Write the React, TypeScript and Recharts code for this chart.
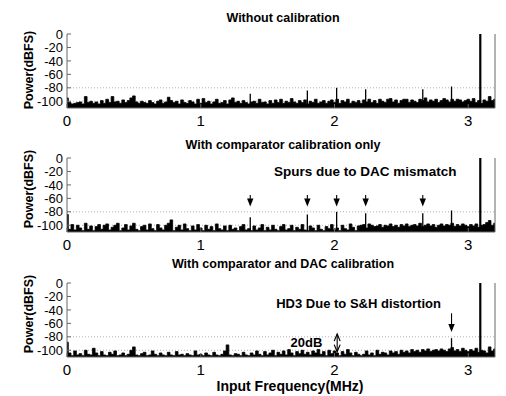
import React from 'react';
import { ComposedChart, Area, XAxis, YAxis, ReferenceLine, ReferenceDot, CartesianGrid } from 'recharts';

const FREQ_STEP = 0.02;
const X_TICKS = [0, 1, 2, 3];
const Y_TICKS = [0, -20, -40, -60, -80, -100];
const TITLES = ['Without calibration', 'With comparator calibration only', 'With comparator and DAC calibration'];
const Y_LABEL = 'Power(dBFS)';
const X_LABEL = 'Input Frequency(MHz)';

const NOISE_1 = [
  -95, -102, -104, -103, -102, -101, -104, -93, -102, -100,
  -103, -101, -104, -99, -103, -97, -102, -93, -101, -100,
  -103, -98, -102, -99, -95, -92, -101, -103, -100, -102,
  -103, -99, -102, -104, -100, -98, -103, -101, -94, -99,
  -102, -100, -104, -98, -102, -103, -99, -101, -104, -97,
  -103, -96, -102, -100, -104, -101, -97, -103, -102, -99,
  -104, -98, -95, -102, -100, -103, -99, -102, -104, -101,
  -100, -103, -97, -102, -101, -104, -99, -103, -98, -102,
  -97, -103, -100, -102, -96, -101, -103, -99, -102, -98,
  -104, -100, -102, -97, -103, -101, -99, -103, -100, -98,
  -102, -97, -103, -99, -101, -97, -103, -100, -102, -99,
  -103, -98, -101, -97, -102, -99, -103, -97, -100, -102,
  -97, -96, -101, -98, -103, -99, -97, -97, -102, -98,
  -100, -102, -97, -99, -95, -101, -98, -100, -97, -102,
  -99, -96, -98, -101, -97, -100, -97, -98, -101, -99,
  -97, -100, -96, -102, -99, -103, -98, -100, -93, -99,
  -97,
];
const NOISE_2 = [
  -84, -106, -99, -107, -100, -104, -108, -97, -106, -101,
  -108, -102, -99, -106, -100, -98, -107, -103, -100, -97,
  -108, -104, -99, -107, -101, -97, -106, -108, -102, -100,
  -107, -98, -105, -108, -99, -104, -107, -100, -97, -92,
  -108, -103, -100, -107, -98, -105, -108, -101, -107, -99,
  -104, -108, -100, -106, -102, -108, -98, -105, -107, -101,
  -108, -100, -106, -104, -108, -102, -99, -107, -105, -108,
  -101, -107, -104, -99, -108, -103, -107, -100, -106, -108,
  -102, -99, -107, -105, -100, -108, -103, -106, -99, -107,
  -108, -101, -104, -108, -100, -106, -108, -102, -105, -99,
  -107, -104, -108, -100, -105, -107, -98, -103, -108, -101,
  -100, -99, -104, -98, -100, -102, -101, -99, -103, -100,
  -101, -98, -102, -100, -103, -99, -101, -98, -102, -100,
  -99, -101, -97, -102, -100, -98, -101, -99, -103, -100,
  -98, -101, -99, -100, -97, -102, -99, -101, -98, -100,
  -102, -99, -101, -98, -103, -100, -99, -96, -93, -100,
  -97,
];
const NOISE_3 = [
  -88, -104, -108, -101, -107, -105, -108, -100, -106, -107,
  -97, -104, -108, -102, -107, -108, -103, -106, -101, -108,
  -107, -104, -108, -106, -100, -95, -107, -108, -105, -103,
  -108, -107, -101, -106, -108, -104, -107, -108, -103, -107,
  -108, -102, -107, -106, -108, -105, -107, -108, -101, -107,
  -106, -108, -104, -107, -108, -103, -107, -108, -106, -101,
  -92, -107, -108, -105, -106, -108, -103, -107, -108, -104,
  -107, -101, -106, -108, -102, -107, -104, -100, -108, -103,
  -106, -101, -107, -99, -104, -108, -102, -105, -100, -106,
  -103, -107, -101, -104, -99, -106, -102, -108, -100, -105,
  -101, -104, -108, -102, -106, -99, -104, -108, -103, -106,
  -108, -106, -101, -107, -104, -108, -100, -106, -103, -104,
  -107, -101, -104, -102, -106, -100, -103, -101, -104, -99,
  -102, -100, -103, -99, -101, -98, -102, -100, -99, -101,
  -98, -100, -102, -98, -96, -101, -99, -102, -97, -100,
  -102, -99, -101, -97, -103, -100, -101, -104, -95, -101,
  -98,
];

const SPUR_FREQS_1 = [1.37, 1.797, 2.016, 2.233, 2.66, 2.875, 3.09];
const SPUR_DB_1 = [-89, -84, -80, -82, -82, -78, 0];
const SPUR_FREQS_2 = [1.37, 1.797, 2.016, 2.233, 2.66, 2.875, 3.09];
const SPUR_DB_2 = [-88, -84, -80, -82, -82, -78, 0];
const SPUR_FREQS_3 = [2.875, 3.09];
const SPUR_DB_3 = [-82, 0];

const ARROW_FREQS_2 = [1.37, 1.797, 2.016, 2.233, 2.66];
const ARROW_FREQS_3 = [2.875];

const SANS = '"Liberation Sans", Arial, Helvetica, sans-serif';
const NARROW = '"Liberation Sans Narrow", "Arial Narrow", "Liberation Sans", Arial, sans-serif';

type Note = { f: number; db: number; text: string; fs: number };
type Arrow = { f: number; from: number; to: number };

const PLOT_TOPS = [34, 158, 283];
const PLOT_H = 74;

const ArrowHead = (p: any) => (
  <path d={`M${p.cx - 3.2},${p.cy - 8} L${p.cx + 3.2},${p.cy - 8} L${p.cx},${p.cy} Z`} fill="#000" />
);
const OpenUp = (p: any) => (
  <path d={`M${p.cx - 3},${p.cy + 7} L${p.cx},${p.cy} L${p.cx + 3},${p.cy + 7}`} fill="none" stroke="#000" strokeWidth={1.2} />
);
const OpenDown = (p: any) => (
  <path d={`M${p.cx - 3},${p.cy - 7} L${p.cx},${p.cy} L${p.cx + 3},${p.cy - 7}`} fill="none" stroke="#000" strokeWidth={1.2} />
);
const EmptyTick = () => <g />;

function Panel(props: {
  top: number;
  noise: number[];
  spurF: number[];
  spurDb: number[];
  arrows: Arrow[];
  notes: Note[];
  dbl?: Arrow;
}) {
  const data = props.noise.map((v, i) => ({ f: +(i * FREQ_STEP).toFixed(3), v }));
  return (
    <div style={{ position: 'absolute', left: 0, top: props.top - 10 }}>
      <ComposedChart width={506} height={10 + PLOT_H + 30} data={data} margin={{ top: 10, right: 10, left: 0, bottom: 0 }}>
        <CartesianGrid vertical={false} horizontalValues={[-80, -100]} stroke="#b0b0b0" strokeDasharray="1 2" />
        <XAxis
          xAxisId={0}
          dataKey="f"
          type="number"
          domain={[0, 3.2]}
          ticks={X_TICKS}
          allowDataOverflow
          height={30}
          tickSize={-4}
          tickMargin={11}
          stroke="#666"
          tickLine={{ stroke: '#666' }}
          tick={{ fill: '#000', fontSize: 15, fontFamily: SANS }}
        />
        <XAxis
          xAxisId="t"
          orientation="top"
          dataKey="f"
          type="number"
          domain={[0, 3.2]}
          ticks={X_TICKS}
          height={0}
          tickSize={-4}
          stroke="#666"
          tick={EmptyTick}
        />
        <YAxis
          yAxisId={0}
          type="number"
          domain={[-110, 0]}
          ticks={Y_TICKS}
          allowDataOverflow
          width={67}
          tickSize={-4}
          tickMargin={8}
          interval={0}
          stroke="#666"
          tick={{ fill: '#000', fontSize: 13, fontFamily: NARROW }}
        />
        <YAxis
          yAxisId="r"
          orientation="right"
          type="number"
          domain={[-110, 0]}
          ticks={Y_TICKS}
          width={1}
          tickSize={-4}
          interval={0}
          stroke="#666"
          tick={EmptyTick}
        />
        <Area
          dataKey="v"
          type="step"
          baseValue={-110}
          stroke="#000"
          strokeWidth={0.8}
          fill="#000"
          fillOpacity={1}
          dot={false}
          activeDot={false}
          isAnimationActive={false}
        />
        {props.spurF.map((f, i) => (
          <ReferenceLine
            key={'s' + i}
            segment={[{ x: f, y: -110 }, { x: f, y: props.spurDb[i] }]}
            stroke="#000"
            strokeWidth={props.spurDb[i] > -10 ? 2.2 : 1.3}
            ifOverflow="visible"
          />
        ))}
        {props.arrows.map((a, i) => (
          <ReferenceLine
            key={'a' + i}
            segment={[{ x: a.f, y: a.from }, { x: a.f, y: a.to + 6 }]}
            stroke="#000"
            strokeWidth={1.1}
          />
        ))}
        {props.arrows.map((a, i) => (
          <ReferenceDot key={'h' + i} x={a.f} y={a.to} r={0} shape={ArrowHead} />
        ))}
        {props.dbl && (
          <ReferenceLine segment={[{ x: props.dbl.f, y: props.dbl.from }, { x: props.dbl.f, y: props.dbl.to }]} stroke="#000" strokeWidth={1.1} />
        )}
        {props.dbl && <ReferenceDot x={props.dbl.f} y={props.dbl.from} r={0} shape={OpenUp} />}
        {props.dbl && <ReferenceDot x={props.dbl.f} y={props.dbl.to} r={0} shape={OpenDown} />}
        {props.notes.map((n, i) => (
          <ReferenceDot
            key={'n' + i}
            x={n.f}
            y={n.db}
            r={0}
            label={{ value: n.text, position: 'center', fill: '#000', fontSize: n.fs, fontWeight: 'bold', fontFamily: SANS }}
          />
        ))}
      </ComposedChart>
    </div>
  );
}

export default function App() {
  const titleY = [22, 148.5, 268];
  const yLabelC = [70, 189, 314];
  return (
    <div style={{ position: 'absolute', left: 0, top: 0, width: 506, height: 396, background: '#fff', overflow: 'hidden' }}>
      <Panel top={PLOT_TOPS[0]} noise={NOISE_1} spurF={SPUR_FREQS_1} spurDb={SPUR_DB_1} arrows={[]} notes={[]} />
      <Panel
        top={PLOT_TOPS[1]}
        noise={NOISE_2}
        spurF={SPUR_FREQS_2}
        spurDb={SPUR_DB_2}
        arrows={ARROW_FREQS_2.map((f) => ({ f, from: -55, to: -72 }))}
        notes={[{ f: 2.23, db: -20, text: 'Spurs due to DAC mismatch', fs: 13.5 }]}
      />
      <Panel
        top={PLOT_TOPS[2]}
        noise={NOISE_3}
        spurF={SPUR_FREQS_3}
        spurDb={SPUR_DB_3}
        arrows={ARROW_FREQS_3.map((f) => ({ f, from: -45, to: -73 }))}
        notes={[
          { f: 2.18, db: -30, text: 'HD3 Due to S&H distortion', fs: 13 },
          { f: 1.79, db: -88, text: '20dB', fs: 13 },
        ]}
        dbl={{ f: 2.02, from: -76, to: -102 }}
      />
      <svg width={506} height={396} style={{ position: 'absolute', left: 0, top: 0, pointerEvents: 'none' }}>
        {TITLES.map((t, i) => (
          <text key={t} x={283} y={titleY[i]} textAnchor="middle" fontFamily={SANS} fontWeight="bold" fontSize={12.5} fill="#000">
            {t}
          </text>
        ))}
        {yLabelC.map((c, i) => (
          <text
            key={'yl' + i}
            x={0}
            y={0}
            transform={`translate(33,${c}) rotate(-90)`}
            textAnchor="middle"
            fontFamily={SANS}
            fontWeight="bold"
            fontSize={12.5}
            fill="#000"
          >
            {Y_LABEL}
          </text>
        ))}
        <text x={290} y={391} textAnchor="middle" fontFamily={SANS} fontWeight="bold" fontSize={14} fill="#000">
          {X_LABEL}
        </text>
      </svg>
    </div>
  );
}
